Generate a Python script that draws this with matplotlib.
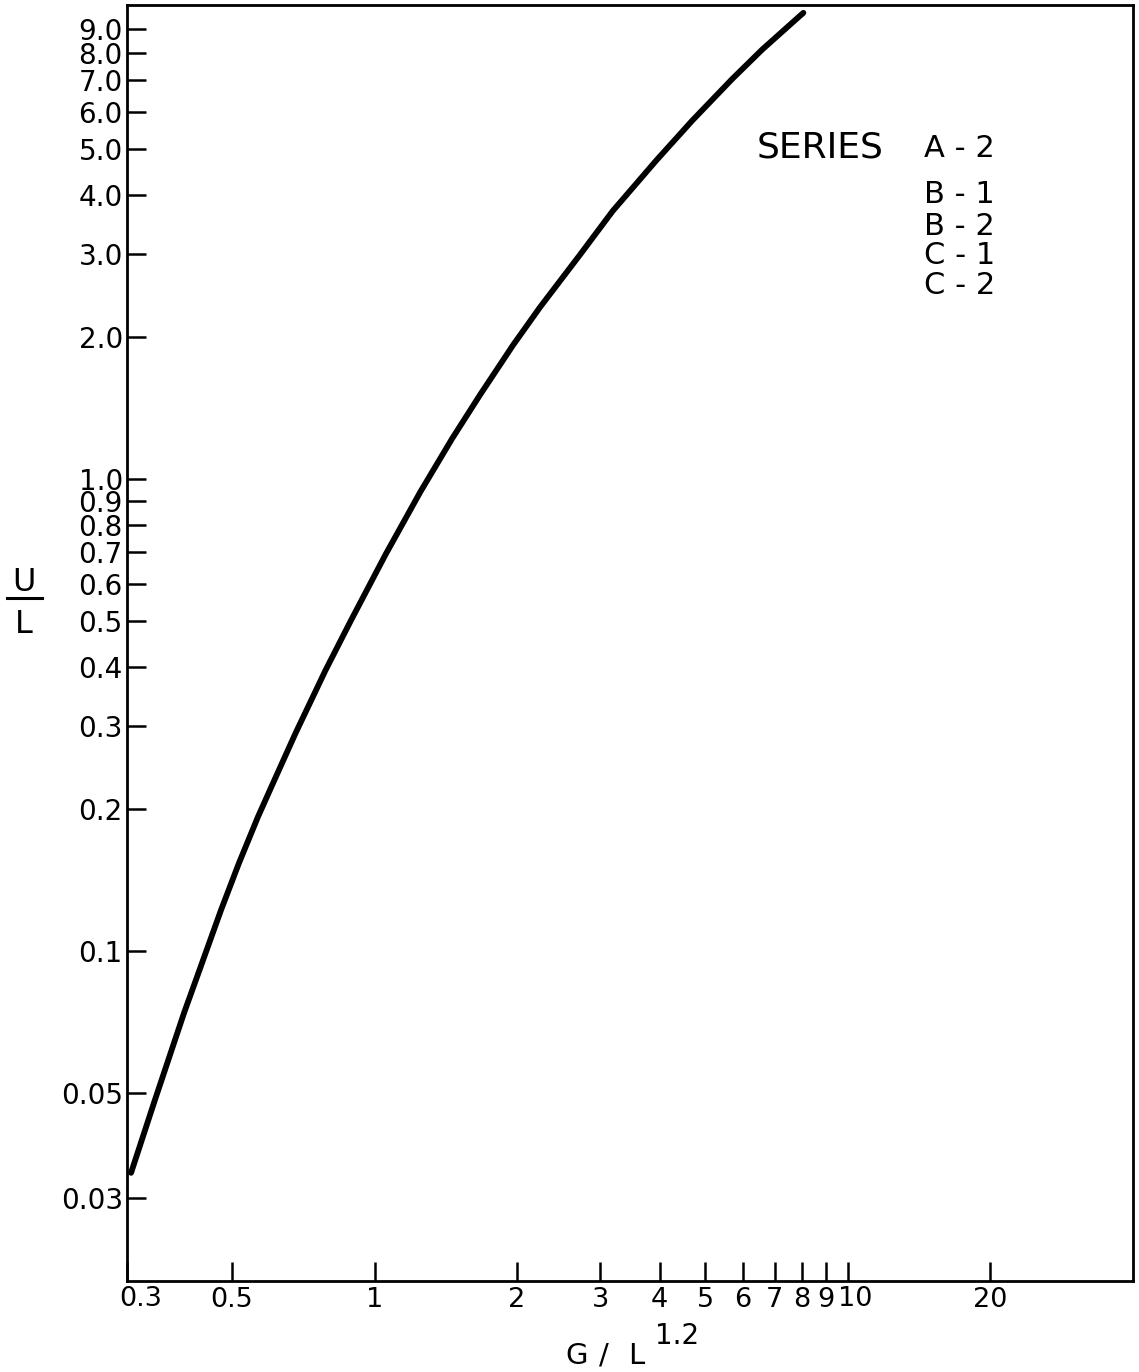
import matplotlib
matplotlib.use("Agg")
import matplotlib.pyplot as plt
from matplotlib.lines import Line2D
from matplotlib.ticker import NullLocator, FixedLocator, FixedFormatter

plt.rcParams['font.family'] = ['DejaVu Sans']

# Correlation curve: U/L against G/L^1.2
g_over_l = [0.306, 0.343, 0.360, 0.396, 0.424, 0.474, 0.517, 0.567, 0.613,
            0.682, 0.788, 0.890, 1.055, 1.250, 1.459, 1.672, 1.962, 2.236,
            2.715, 3.185, 3.944, 4.694, 5.70, 6.59, 7.89, 8.05]
u_over_l = [0.0339, 0.0481, 0.0556, 0.0740, 0.0895, 0.1222, 0.1535, 0.1923,
            0.2291, 0.2904, 0.3936, 0.500, 0.692, 0.940, 1.219, 1.510, 1.923,
            2.312, 2.985, 3.698, 4.742, 5.754, 7.047, 8.128, 9.55, 9.72]

x_ticks = [0.3, 0.5, 1, 2, 3, 4, 5, 6, 7, 8, 9, 10, 20]
x_tick_labels = ["", "0.5", "1", "2", "3", "4", "5", "6", "7", "8", "9", "", "20"]
# labels nudged sideways: (value, text, pixel offset)
x_nudged_labels = [(0.3, "0.3", 14), (10, "10", 7)]
y_ticks = [0.03, 0.05, 0.1, 0.2, 0.3, 0.4, 0.5, 0.6, 0.7, 0.8, 0.9,
           1.0, 2.0, 3.0, 4.0, 5.0, 6.0, 7.0, 8.0, 9.0]
y_tick_labels = ["0.03", "0.05", "0.1", "0.2", "0.3", "0.4", "0.5", "0.6",
                 "0.7", "0.8", "0.9", "1.0", "2.0", "3.0", "4.0", "5.0",
                 "6.0", "7.0", "8.0", "9.0"]

series_title = "SERIES"
series_names = ["A - 2", "B - 1", "B - 2", "C - 1", "C - 2"]

W, H = 1139, 1372
fig = plt.figure(figsize=(W / 100, H / 100), dpi=100)
ax = fig.add_axes([127 / W, 1 - 1281 / H, (1133 - 127) / W, (1281 - 5) / H])

ax.plot(g_over_l, u_over_l, color='black', lw=4.2,
        solid_capstyle='round', solid_joinstyle='round')

ax.set_xscale('log')
ax.set_yscale('log')
ax.set_xlim(0.3, 40)
ax.set_ylim(0.02, 10.1)

ax.xaxis.set_major_locator(FixedLocator(x_ticks))
ax.xaxis.set_major_formatter(FixedFormatter(x_tick_labels))
ax.yaxis.set_major_locator(FixedLocator(y_ticks))
ax.yaxis.set_major_formatter(FixedFormatter(y_tick_labels))
ax.xaxis.set_minor_locator(NullLocator())
ax.yaxis.set_minor_locator(NullLocator())

ax.tick_params(axis='both', which='major', direction='in', length=14,
               width=1.8, color='black', labelcolor='black')
ax.tick_params(axis='y', pad=3, labelsize=20)
ax.tick_params(axis='x', pad=4, labelsize=19.5)

for xv, txt, dx in x_nudged_labels:
    ax.annotate(txt, xy=(xv, 0), xycoords=('data', 'axes fraction'),
                xytext=(dx, -5.5), textcoords='offset pixels',
                ha='center', va='top', fontsize=19.5)

for side in ['left', 'right', 'top', 'bottom']:
    ax.spines[side].set_linewidth(2.0)
    ax.spines[side].set_color('black')

# Axis titles
fig.text(565 / W, 1 - 1364 / H, "G", fontsize=21, ha='left', va='baseline')
fig.text(604 / W, 1 - 1364 / H, "/", fontsize=21, ha='center', va='baseline')
fig.text(628 / W, 1 - 1364 / H, "L", fontsize=21, ha='left', va='baseline')
fig.text(655 / W, 1 - 1344 / H, "1.2", fontsize=20, ha='left', va='baseline')

fig.text(24 / W, 1 - 591 / H, "U", fontsize=23, ha='center', va='baseline')
fig.text(24 / W, 1 - 633 / H, "L", fontsize=23, ha='center', va='baseline')
fig.add_artist(Line2D([7 / W, 42 / W], [1 - 598 / H, 1 - 598 / H],
                      transform=fig.transFigure, color='black', lw=2.2))

# Series listing
fig.text(757 / W, 1 - 157 / H, series_title, fontsize=26, ha='left', va='baseline')
rows_y = [157, 203, 235, 264, 294]
for name, yb in zip(series_names, rows_y):
    fig.text(924 / W, 1 - yb / H, name, fontsize=22, ha='left', va='baseline')

fig.savefig("out.png", dpi=100, facecolor='white')
